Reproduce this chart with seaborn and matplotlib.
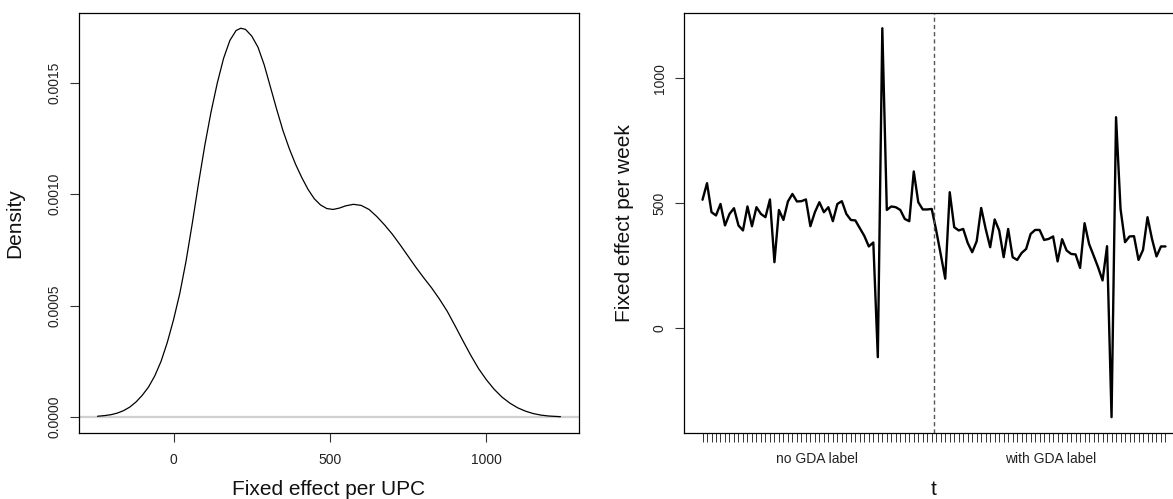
import numpy as np
import pandas as pd
import matplotlib
matplotlib.use("Agg")
import matplotlib.pyplot as plt
import matplotlib.transforms as mtransforms
import seaborn as sns

# ---- Left panel: density of fixed effect per UPC (curve)
upc_effect = [-243, -220, -200, -180, -160, -140, -120, -100, -80, -60, -40, -20,
              0, 20, 40, 60, 80, 100, 120, 140, 160, 180, 200, 215, 230, 250,
              270, 290, 310, 330, 350, 370, 390, 410, 430, 450, 470, 490, 510,
              530, 550, 575, 600, 625, 650, 675, 700, 725, 750, 775, 800, 825,
              850, 875, 900, 925, 950, 975, 1000, 1025, 1050, 1075, 1100, 1125,
              1150, 1175, 1200, 1237]
density = [0.000004, 0.000007, 0.000011, 0.000018, 0.000029, 0.000045, 0.000068,
           0.000098, 0.000135, 0.000185, 0.000250, 0.000335, 0.000437, 0.000555,
           0.000700, 0.000870, 0.001050, 0.001220, 0.001370, 0.001500, 0.001610,
           0.001690, 0.001735, 0.001745, 0.001740, 0.001710, 0.001660, 0.001580,
           0.001480, 0.001380, 0.001285, 0.001205, 0.001135, 0.001075, 0.001022,
           0.000980, 0.000952, 0.000936, 0.000932, 0.000938, 0.000948, 0.000955,
           0.000950, 0.000932, 0.000900, 0.000862, 0.000820, 0.000772, 0.000722,
           0.000672, 0.000625, 0.000580, 0.000530, 0.000475, 0.000410, 0.000343,
           0.000278, 0.000218, 0.000168, 0.000125, 0.000090, 0.000063, 0.000042,
           0.000027, 0.000016, 0.000009, 0.000005, 0.000002]
density_xticks = [0, 500, 1000]
density_yticks = [0.0000, 0.0005, 0.0010, 0.0015]

# ---- Right panel: fixed effect per week
week_effect = [514, 580, 464, 451, 497, 411, 457, 480, 411, 391,
               487, 408, 484, 457, 444, 515, 264, 473, 433, 507,
               537, 507, 508, 515, 408, 464, 504, 464, 484, 428,
               497, 508, 457, 433, 431, 400, 369, 327, 343, -116,
               1200, 473, 487, 484, 473, 437, 428, 627, 504, 475,
               475, 477, 390, 295, 198, 544, 404, 391, 397, 341,
               304, 348, 481, 397, 324, 435, 391, 284, 397, 284,
               273, 301, 317, 377, 393, 393, 353, 357, 367, 267,
               356, 311, 297, 295, 241, 420, 337, 291, 244, 191,
               328, -356, 844, 477, 344, 367, 368, 273, 313, 444,
               357, 287, 327, 327]
weeks = list(range(1, len(week_effect) + 1))
period_labels = ["no GDA label", "with GDA label"]
n_before = 52
week_yticks = [0, 500, 1000]

sns.set_theme(style="white")
plt.rcParams["font.family"] = ["Liberation Sans", "DejaVu Sans"]

W, H = 1173, 499
fig = plt.figure(figsize=(W / 100, H / 100), dpi=100)


def px_axes(l, t, r, b):
    return fig.add_axes([l / W, 1 - b / H, (r - l) / W, (b - t) / H])


def rlim(vals):
    lo, hi = min(vals), max(vals)
    pad = 0.04 * (hi - lo)
    return lo - pad, hi + pad


def style_axes(ax):
    for s in ax.spines.values():
        s.set_visible(True)
        s.set_color("black")
        s.set_linewidth(0.9)
    ax.tick_params(bottom=True, left=True, direction="out", length=6.5,
                   width=0.8, color="#333333", labelsize=10, labelcolor="#222222")
    ax.tick_params(axis="x", pad=8)
    ax.tick_params(axis="y", pad=6, labelrotation=90)
    for lab in ax.get_yticklabels():
        lab.set_va("center")


# Left panel
ax1 = px_axes(79, 12.7, 579, 432.7)
dens_df = pd.DataFrame({"x": upc_effect, "y": density})
ax1.axhline(0, color="#d0d0d0", lw=1.6, zorder=1)
sns.lineplot(data=dens_df, x="x", y="y", ax=ax1, color="black", lw=0.9,
             estimator=None, sort=False, zorder=3)
ax1.set_xlim(*rlim(upc_effect))
ax1.set_ylim(*rlim([0] + density))
ax1.set_xticks(density_xticks)
ax1.set_xticklabels([str(v) for v in density_xticks])
ax1.set_yticks(density_yticks)
ax1.set_yticklabels([f"{v:.4f}" for v in density_yticks])
style_axes(ax1)
ax1.set_xlabel("Fixed effect per UPC", fontsize=15, color="#111111")
ax1.set_ylabel("Density", fontsize=15, color="#111111")
ax1.xaxis.set_label_coords(0.5, -0.112)
ax1.yaxis.set_label_coords(-0.11, 0.5)

# Right panel
ax2 = px_axes(684, 12.7, 1184, 432.7)
week_df = pd.DataFrame({"t": weeks, "effect": week_effect})
sns.lineplot(data=week_df, x="t", y="effect", ax=ax2, color="black", lw=1.7,
             estimator=None, sort=False)
ax2.axvline(n_before + 0.5, color="#555555", lw=1.0, ls=(0, (3, 2.2)))
ax2.set_xlim(*rlim(weeks))
ax2.set_ylim(*rlim(week_effect))
ax2.set_xticks(weeks)
ax2.set_xticklabels([])
ax2.set_yticks(week_yticks)
ax2.set_yticklabels([str(v) for v in week_yticks])
style_axes(ax2)
ax2.tick_params(axis="x", length=6.5, width=0.7)
ax2.set_xlabel("t", fontsize=15, color="#111111")
ax2.set_ylabel("Fixed effect per week", fontsize=15, color="#111111")
ax2.xaxis.set_label_coords(0.5, -0.112)
ax2.yaxis.set_label_coords(-0.10, 0.5)
trans = mtransforms.blended_transform_factory(ax2.transData, ax2.transAxes)
centers = [np.mean(weeks[:n_before]), np.mean(weeks[n_before:])]
for c, lab in zip(centers, period_labels):
    ax2.text(c, -0.0626, lab, transform=trans, ha="center", va="center",
             fontsize=10, color="#222222")

fig.savefig("out.png", dpi=100)
